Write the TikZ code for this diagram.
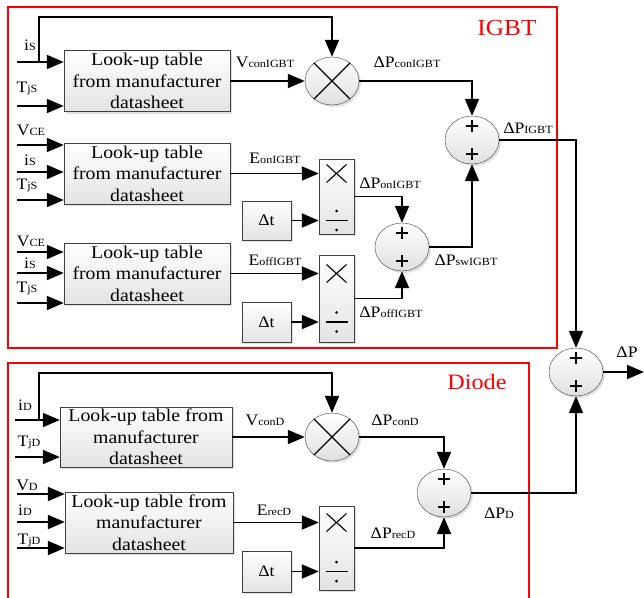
\documentclass[tikz,border=0pt]{standalone}
\usepackage{fontspec}
\setmainfont{Liberation Serif}[FakeStretch=1.1]
\usetikzlibrary{arrows.meta,shapes.geometric,shadows,calc}
\newcommand\sbx[1]{{\fontsize{11}{11}\selectfont #1}}
\tikzset{
  shd/.style={drop shadow={shadow xshift=2pt,shadow yshift=-2pt,opacity=0.25}},
  lut/.style={draw=black!75, top color=white, bottom color=gray!22, shd,
     minimum height=61pt, inner sep=0pt, align=center,
     font=\fontsize{18}{21.5}\selectfont},
  circ/.style={ellipse, draw=black!75, top color=white, bottom color=gray!25, shd,
     minimum width=54pt, minimum height=48pt, inner sep=0pt},
  mdbox/.style={draw=black!75, top color=white, bottom color=gray!22, shd,
     minimum width=35pt, inner sep=0pt},
  dtbox/.style={draw=black!75, top color=white, bottom color=gray!22, shd,
     minimum width=49pt, inner sep=0pt, font=\fontsize{16}{16}\selectfont},
  arr/.style={line width=1.9pt, line join=miter, -{Triangle[length=17pt 0 0,width=14pt 0 0]}},
  lbl/.style={inner sep=0pt, font=\fontsize{16}{16}\selectfont},
  sym/.style={line width=1.1pt},
  redbox/.style={draw=red, line width=1.3pt},
  redlbl/.style={inner sep=0pt, text=red}
}
\begin{document}
\begin{tikzpicture}[x=1pt,y=-1pt]
\useasboundingbox (0,0) rectangle (644,597);
% red frames
\draw[redbox] (8,7) rectangle (557,348);
\draw[redbox] (8,600) -- (8,363) -- (529,363) -- (529,600);
\node[redlbl, font=\fontsize{23}{23}\selectfont] (tigbt) at (507,28) {IGBT};
\node[redlbl, font=\fontsize{22}{22}\selectfont] (tdiode) at (477,382) {Diode};

% ---------- IGBT ----------
\node[lut, minimum width=166pt] (b1) at (147,81) {Look-up table\\from manufacturer\\datasheet};
\node[lut, minimum width=166pt] (b2) at (147,173.5) {Look-up table\\from manufacturer\\datasheet};
\node[lut, minimum width=166pt] (b3) at (147,273.5) {Look-up table\\from manufacturer\\datasheet};

\node[circ] (mul1) at (332,81) {};
\draw[sym] (mul1.135) -- (mul1.-45) (mul1.45) -- (mul1.-135);
\node[circ] (sum1) at (472,140) {};
\node[circ] (sum2) at (402,247) {};
\node[circ] (sumF) at (576,372) {};

\node[mdbox, minimum height=75pt] (md1) at (336.5,196.5) {};
\node[mdbox, minimum height=87pt] (md2) at (336.5,298.5) {};
\node[dtbox, minimum height=39pt] (dt1) at (266.5,220.5) {Δt};
\node[dtbox, minimum height=40pt] (dt2) at (266.5,322) {Δt};

% inputs block 1
\coordinate (i1a) at (17,62);
\coordinate (i1b) at (17,106);
\coordinate (lp1) at (39,62);
\coordinate (lp1t) at (39,17);
\draw[arr] (i1a) -- (i1a -| b1.west);
\draw[arr] (i1b) -- (i1b -| b1.west);
\draw[arr] (lp1) -- (lp1t) -- (lp1t -| mul1.north) -- (mul1.north);
\node[lbl] (l1a) at (30,45) {i\sbx{S}};
\node[lbl] (l1b) at (27,88) {T\sbx{jS}};
% inputs block 2
\coordinate (i2a) at (17,145);
\coordinate (i2b) at (17,172);
\coordinate (i2c) at (17,200);
\draw[arr] (i2a) -- (i2a -| b2.west);
\draw[arr] (i2b) -- (i2b -| b2.west);
\draw[arr] (i2c) -- (i2c -| b2.west);
\node[lbl] (l2a) at (31,130) {V\sbx{CE}};
\node[lbl] (l2b) at (30,160) {i\sbx{S}};
\node[lbl] (l2c) at (27,185) {T\sbx{jS}};
% inputs block 3
\coordinate (i3a) at (17,252);
\coordinate (i3b) at (17,273);
\coordinate (i3c) at (17,303);
\draw[arr] (i3a) -- (i3a -| b3.west);
\draw[arr] (i3b) -- (i3b -| b3.west);
\draw[arr] (i3c) -- (i3c -| b3.west);
\node[lbl] (l3a) at (31,241) {V\sbx{CE}};
\node[lbl] (l3b) at (30,263) {i\sbx{S}};
\node[lbl] (l3c) at (27,288) {T\sbx{jS}};

% connections IGBT
\draw[arr] (b1.east) -- (mul1.west);
\node[lbl] (vcon) at (265,62) {V\sbx{conIGBT}};
\draw[arr] (mul1.east) -| (sum1.north);
\node[lbl] (pcon) at (407,62) {ΔP\sbx{conIGBT}};
\draw[arr] (b2.east) -- (b2.east -| md1.west);
\node[lbl] (eon) at (275,158) {E\sbx{onIGBT}};
\draw[arr] (dt1.east) -- (dt1.east -| md1.west);
\draw[arr] (md1.east) -| (sum2.north);
\node[lbl] (pon) at (390,183) {ΔP\sbx{onIGBT}};
\draw[arr] (b3.east) -- (b3.east -| md2.west);
\node[lbl] (eoff) at (275,260) {E\sbx{offIGBT}};
\draw[arr] (dt2.east) -- (dt2.east -| md2.west);
\draw[arr] (md2.east) -| (sum2.south);
\node[lbl] (poff) at (391,312) {ΔP\sbx{offIGBT}};
\draw[arr] (sum2.east) -| (sum1.south);
\node[lbl] (psw) at (466,260) {ΔP\sbx{swIGBT}};
\draw[arr] (sum1.east) -| (sumF.north);
\node[lbl] (pigbt) at (528,128) {ΔP\sbx{IGBT}};
\coordinate (outP) at (644,372);
\draw[arr] (sumF.east) -- (outP);
\node[lbl] (ptot) at (627,352) {ΔP};

% symbols in md boxes
\begin{scope}[shift={(md1.center |- b2.east)}]
  \draw[sym] (-10,-9) -- (10,9) (-10,9) -- (10,-9);
\end{scope}
\begin{scope}[shift={(md1.center |- dt1.east)}]
  \draw[sym] (-11,0) -- (11,0);
  \fill (0,-9.5) circle (1.5pt) (0,9.5) circle (1.5pt);
\end{scope}
\begin{scope}[shift={(md2.center |- b3.east)}]
  \draw[sym] (-10,-9) -- (10,9) (-10,9) -- (10,-9);
\end{scope}
\begin{scope}[shift={(md2.center |- dt2.east)}]
  \draw[sym] (-11,0) -- (11,0);
  \fill (0,-9.5) circle (1.5pt) (0,9.5) circle (1.5pt);
\end{scope}

% ---------- Diode ----------
\node[lut, minimum width=172pt, minimum height=60pt] (d1) at (146,437) {Look-up table from\\manufacturer\\datasheet};
\node[lut, minimum width=168pt] (d2) at (149,522.5) {Look-up table from\\manufacturer\\datasheet};
\node[circ] (mulD) at (332,437) {};
\draw[sym] (mulD.135) -- (mulD.-45) (mulD.45) -- (mulD.-135);
\node[circ] (sumD) at (444,493) {};
\node[mdbox, minimum height=84pt] (mdD) at (336.5,548) {};
\node[dtbox, minimum height=41pt] (dtD) at (266.5,571.5) {Δt};

\coordinate (j1a) at (15,420);
\coordinate (j1b) at (15,457);
\coordinate (lpD) at (39,420);
\coordinate (lpDt) at (39,373);
\draw[arr] (j1a) -- (j1a -| d1.west);
\draw[arr] (j1b) -- (j1b -| d1.west);
\draw[arr] (lpD) -- (lpDt) -- (lpDt -| mulD.north) -- (mulD.north);
\node[lbl] (k1a) at (25,405) {i\sbx{D}};
\node[lbl] (k1b) at (29,442) {T\sbx{jD}};
\coordinate (j2a) at (17,494);
\coordinate (j2b) at (17,522);
\coordinate (j2c) at (17,548);
\draw[arr] (j2a) -- (j2a -| d2.west);
\draw[arr] (j2b) -- (j2b -| d2.west);
\draw[arr] (j2c) -- (j2c -| d2.west);
\node[lbl] (k2a) at (27,485) {V\sbx{D}};
\node[lbl] (k2b) at (25,510) {i\sbx{D}};
\node[lbl] (k2c) at (29,540) {T\sbx{jD}};

\draw[arr] (d1.east) -- (mulD.west);
\node[lbl] (vcond) at (265,420) {V\sbx{conD}};
\draw[arr] (mulD.east) -| (sumD.north);
\node[lbl] (pcond) at (395,420) {ΔP\sbx{conD}};
\draw[arr] (d2.east) -- (d2.east -| mdD.west);
\node[lbl] (erec) at (274,510) {E\sbx{recD}};
\draw[arr] (dtD.east) -- (dtD.east -| mdD.west);
\draw[arr] (mdD.east) -| (sumD.south);
\node[lbl] (prec) at (393,533) {ΔP\sbx{recD}};
\draw[arr] (sumD.east) -| (sumF.south);
\node[lbl] (pd) at (499,513) {ΔP\sbx{D}};

\begin{scope}[shift={(mdD.center |- d2.east)}]
  \draw[sym] (-10,-9) -- (10,9) (-10,9) -- (10,-9);
\end{scope}
\begin{scope}[shift={(mdD.center |- dtD.east)}]
  \draw[sym] (-11,0) -- (11,0);
  \fill (0,-9.5) circle (1.5pt) (0,9.5) circle (1.5pt);
\end{scope}

% plus signs in sum circles
\foreach \s in {sum1,sum2,sumF,sumD}{
  \begin{scope}[shift={(\s.center)}]
    \draw[sym] (-6,-14) -- (6,-14) (0,-20) -- (0,-8);
    \draw[sym] (-6,14) -- (6,14) (0,8) -- (0,20);
  \end{scope}
}
\end{tikzpicture}
\end{document}
